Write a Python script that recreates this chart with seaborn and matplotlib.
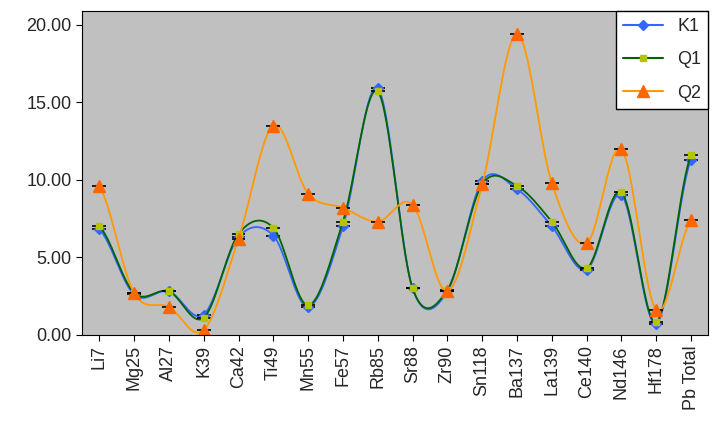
import numpy as np
import matplotlib
matplotlib.use("Agg")
import matplotlib.pyplot as plt
import seaborn as sns

categories = ["Li7", "Mg25", "Al27", "K39", "Ca42", "Ti49", "Mn55", "Fe57", "Rb85",
              "Sr88", "Zr90", "Sn118", "Ba137", "La139", "Ce140", "Nd146", "Hf178", "Pb Total"]
k1 = [6.8, 2.6, 2.8, 1.3, 6.3, 6.4, 1.8, 7.0, 15.9, 3.0, 2.8, 9.9, 9.4, 7.0, 4.2, 9.0, 0.7, 11.3]
q1 = [7.0, 2.7, 2.8, 1.1, 6.5, 6.9, 1.9, 7.3, 15.7, 3.0, 2.9, 9.7, 9.6, 7.3, 4.3, 9.2, 0.8, 11.6]
q2 = [9.6, 2.7, 1.8, 0.3, 6.2, 13.5, 9.1, 8.2, 7.3, 8.4, 2.8, 9.7, 19.4, 9.8, 5.9, 12.0, 1.6, 7.4]


def smooth(y, n=20):
    # Catmull-Rom curve through the points, like Excel's smoothed lines
    y = np.asarray(y, float)
    p = np.concatenate([[y[0]], y, [y[-1]]])
    xs, ys = [], []
    for i in range(len(y) - 1):
        t = np.linspace(0, 1, n, endpoint=False)
        p0, p1, p2, p3 = p[i], p[i + 1], p[i + 2], p[i + 3]
        ys.append(0.5 * (2 * p1 + (-p0 + p2) * t + (2 * p0 - 5 * p1 + 4 * p2 - p3) * t ** 2
                         + (-p0 + 3 * p1 - 3 * p2 + p3) * t ** 3))
        xs.append(i + t)
    xs.append([len(y) - 1]); ys.append([y[-1]])
    return np.concatenate(xs), np.concatenate(ys)


sns.set_style("white")
plt.rcParams["font.family"] = ["Liberation Sans", "DejaVu Sans"]
fig, ax = plt.subplots(figsize=(7.12, 4.32), dpi=100)
fig.subplots_adjust(left=0.115, right=0.995, top=0.975, bottom=0.225)
ax.set_facecolor("#C0C0C0")

x = np.arange(len(categories))
series = [("K1", k1, "#3366FF", "D", "#3366FF", 5),
          ("Q1", q1, "#006400", "s", "#B5C400", 4),
          ("Q2", q2, "#FF9900", "^", "#FF6600", 8)]
for name, vals, lc, mk, mc, ms in series:
    sx, sy = smooth(vals)
    sns.lineplot(x=sx, y=sy, ax=ax, color=lc, lw=1.3, sort=False)
    ax.errorbar(x, vals, xerr=0.2, fmt="none", ecolor="black", elinewidth=1.2)
    ax.plot(x, vals, ls="none", marker=mk, color=mc, ms=ms, mec=mc)
    ax.plot([], [], color=lc, marker=mk, mfc=mc, mec=mc, ms=ms, label=name)

ax.set_xlim(-0.5, len(categories) - 0.5)
ax.set_ylim(0, 20.9)
ax.set_yticks([0, 5, 10, 15, 20])
ax.set_yticklabels([f"{v:.2f}" for v in [0, 5, 10, 15, 20]], fontsize=13)
ax.set_xticks(x)
ax.set_xticklabels(categories, rotation=90, fontsize=13)
ax.tick_params(axis="both", length=4, color="black", direction="out")
ax.tick_params(axis="both", which="both", left=True, bottom=True)
for s in ax.spines.values():
    s.set_color("black")
leg = ax.legend(loc="upper right", fontsize=13, frameon=True, fancybox=False,
                edgecolor="black", framealpha=1, handlelength=2.2, borderaxespad=0,
                labelspacing=0.9)
leg.get_frame().set_linewidth(1)
fig.savefig("out.png")
